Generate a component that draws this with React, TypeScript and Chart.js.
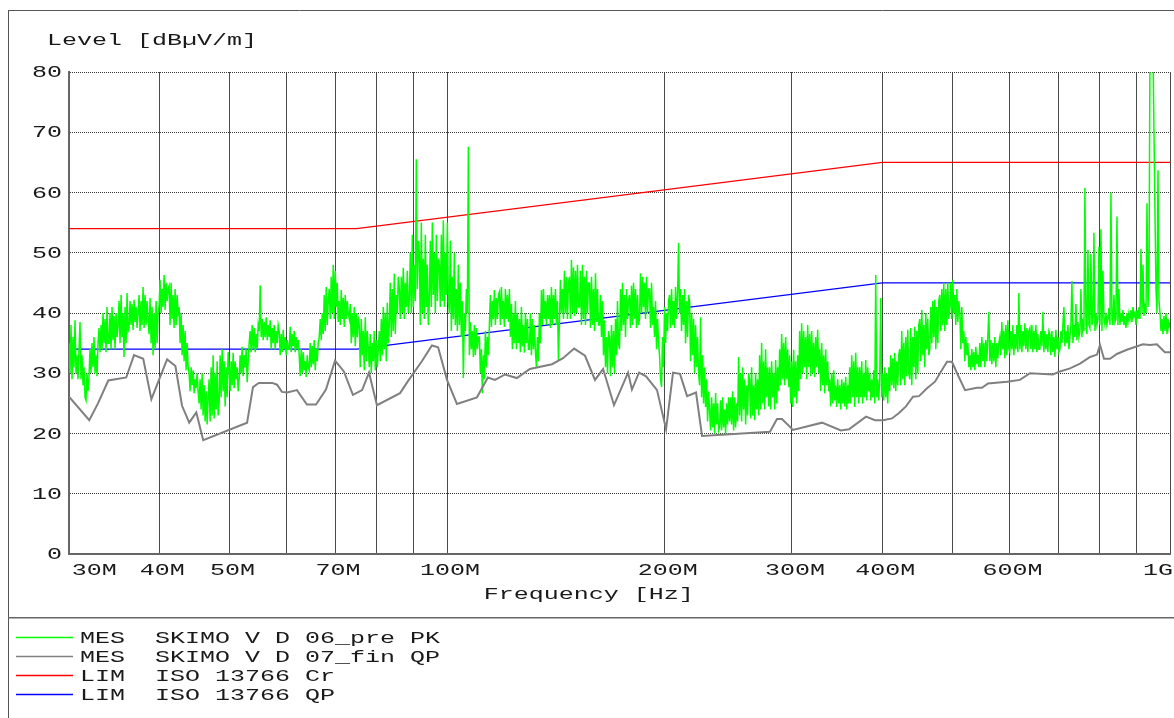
import React, { useEffect, useRef } from "react";
import { Chart, registerables } from "chart.js";

Chart.register(...registerables);

// ---------- data ----------
const FREQ_START_MHZ = 30;
const FREQ_STOP_MHZ = 1000;

const xGridMHz = [30, 40, 50, 60, 70, 80, 90, 100, 200, 300, 400, 500, 600, 700, 800, 900, 1000];
const xLabelMHz = [30, 40, 50, 70, 100, 200, 300, 400, 600, 1000];
const xLabelText = ["30M", "40M", "50M", "70M", "100M", "200M", "300M", "400M", "600M", "1G"];
const yTickValues = [0, 10, 20, 30, 40, 50, 60, 70, 80];

// MES SKIMO V D 06_pre PK : peak sweep levels (dBµV/m), one per sweep step from 30 MHz to 1 GHz
const pkLevels = [
  35, 30, 38, 29, 36, 31, 38.8, 30, 33, 29,
  34, 38.5, 29, 33, 28, 31, 26, 25.5, 30, 27,
  29.5, 34, 30, 35, 31, 36, 30, 33, 29.5, 35,
  37.5, 33.5, 38, 34, 40, 35, 39, 33.5, 41, 35,
  35, 40, 34, 41, 35.5, 39.5, 34, 40, 36, 38,
  42, 35, 43, 36, 40, 32.7, 41, 35, 43.3, 37,
  37.5, 42, 38, 41.5, 37.2, 42.2, 38.5, 41, 37.5, 40,
  43, 37, 42, 38, 44.3, 37.5, 43, 38, 42, 39,
  36.5, 42.5, 35, 41, 33, 40, 34, 42, 35, 40,
  41, 45.5, 40, 44, 41, 46.3, 40.5, 45, 42, 44,
  44.5, 38, 45, 39, 43, 37.5, 44, 38, 43, 40,
  41, 35, 40, 33, 38, 32, 37, 30.5, 35, 31,
  30, 27, 31, 28, 30.5, 26.7, 29, 27.5, 30, 27,
  25, 29, 24, 30, 23, 28, 22, 27, 21.5, 26,
  29, 22, 31, 23, 33, 22.5, 30, 24, 32, 23,
  25, 33, 26, 34, 27, 32, 24.5, 31, 26, 33.5,
  31, 27, 32, 28, 33.4, 27.5, 32, 29, 31, 27,
  29, 33, 30, 34.4, 29.5, 33, 31, 34, 28.5, 32,
  35, 37, 33.5, 38, 34, 37.5, 33.5, 36.5, 34, 38,
  37, 44.6, 36, 39, 35.5, 38.5, 36, 39.3, 35.5, 38,
  36, 38.8, 34, 37.5, 35, 38, 34, 37, 35, 38,
  37, 33, 36.5, 33.5, 37.2, 34, 36, 33, 35.5, 34,
  34, 37.7, 33.5, 36.5, 34.5, 37, 33.5, 36, 34, 35.5,
  33, 29.5, 34, 30, 33.5, 30.5, 32, 29.4, 33, 31,
  30.5, 35, 31, 34.5, 31.5, 35.5, 30.5, 34, 32, 35,
  36, 39, 35.5, 40, 36.5, 43, 37, 44.3, 38, 42,
  44, 39, 46, 40, 48, 39, 47, 41, 45, 38.5,
  42, 38, 43.8, 39, 42.5, 37.7, 43, 39, 42, 40,
  39, 41.5, 35, 40, 36, 41, 34.5, 40, 36, 39,
  38, 31, 39, 33, 37, 30.5, 39.3, 32, 37, 34,
  31, 36.5, 30, 35, 32, 37, 30.5, 35.5, 31, 34,
  37, 32, 39, 33, 41, 34, 40, 32, 41.7, 35,
  38, 45, 36, 44, 37, 46.5, 36.5, 43, 40, 46,
  44, 39, 46, 40, 47.5, 39, 45, 41, 47, 40,
  42, 50, 40, 53, 41, 48, 42, 65.5, 44, 52,
  50, 38, 55, 40, 49, 39, 53, 41, 48, 38,
  42, 52, 41, 55, 43, 50, 40, 53, 42, 49,
  48, 41, 53, 42, 55.4, 41, 50, 43, 55, 42,
  40, 52, 37, 46, 39, 50, 38, 44, 37, 48,
  38, 45, 36, 42, 29.2, 40, 37, 44, 40, 67.6,
  33, 38.5, 34, 37, 32.7, 38, 33, 37.5, 34, 36,
  36, 30, 34, 26.7, 33, 29, 37, 31, 36, 33,
  38, 43, 37.7, 42, 39, 43.8, 38, 42.5, 39, 43,
  43.5, 38, 44.3, 39, 42, 37.7, 44, 39, 43, 38.5,
  44, 36, 41.5, 34, 40, 35, 42, 34, 40, 35,
  39, 33.5, 41, 34.5, 38, 33.4, 40, 35, 39, 34,
  34, 40, 33, 39, 34, 38, 33.5, 31, 36, 32,
  40, 35, 43.8, 38, 44, 39, 42, 38, 43, 39,
  43, 37.5, 44.3, 38, 43, 39, 44, 38, 42, 32.2,
  38.5, 45.5, 40, 44, 39, 47, 40, 46, 39, 45,
  46, 39, 48.8, 40, 47.6, 39.5, 47, 40, 48, 41,
  41, 47, 38, 48, 39, 46, 38, 47, 40, 45,
  45, 37.5, 46, 38, 44, 37, 46.6, 38.5, 44, 38,
  38, 43, 36, 42, 33, 38.8, 31, 36, 30, 37,
  36, 29.5, 38, 31, 37, 30, 39, 33, 42, 35,
  34, 44, 37, 45, 38, 43, 36, 44, 39, 42,
  43, 37.5, 44.5, 38, 45, 39, 44, 37.5, 43, 38,
  39, 46.6, 40, 46, 41, 45, 39, 46, 40, 44,
  44, 37.5, 45, 38, 41, 36, 42, 34, 39, 35,
  33, 29, 27.7, 36, 31, 41, 35, 40, 37, 42,
  43, 37.5, 44, 38, 42, 37.5, 44.3, 39, 43, 51.6,
  40, 44, 37, 43, 38, 44, 35, 42, 36, 43,
  42, 32, 40, 33, 39, 30, 38, 31, 36, 30,
  28, 39.3, 26, 33, 25, 31, 24.4, 29, 22, 27,
  24, 20.5, 26, 21, 25, 20, 26.7, 21.5, 25, 20.5,
  21, 25.5, 20.5, 26, 21, 24, 20, 25, 21.5, 26,
  22, 26, 21.5, 27, 20.5, 26, 21, 25, 22, 32.7,
  23, 30, 22, 31, 24, 29, 21.5, 28, 23, 30,
  29, 22.5, 31, 23, 28, 22.2, 30, 24, 29, 23,
  33, 24, 35, 25, 32, 24, 34, 26, 31, 24.5,
  31, 24, 32, 26, 30, 24, 32.2, 25, 31, 27,
  34, 28, 36.5, 29, 35, 28, 36, 29, 34, 27.7,
  33, 25, 32, 24.4, 33.9, 26, 32, 25, 33, 27,
  37, 29, 38.3, 30, 37, 31, 36, 29, 38, 31,
  36.5, 29.5, 37, 30, 35, 29.4, 36, 31, 37.2, 30,
  34, 27, 35, 28, 33, 26.7, 34, 28, 32, 27,
  29, 24.5, 30, 25, 30.5, 25.5, 28, 24.4, 29, 25,
  28, 24, 29, 25, 28.5, 24.5, 29.4, 24, 28, 25,
  31, 25, 33, 26, 32, 24.4, 33.4, 26, 31, 25,
  31, 26, 32, 25, 30, 26, 32.2, 25.5, 31, 27,
  30, 25.5, 29, 26, 30.5, 25, 46.3, 26, 29, 25.5,
  29, 42.5, 26, 30, 25.5, 31, 26, 30, 25, 31,
  27, 33, 28, 32.5, 27.5, 33.4, 27, 32, 28, 33,
  34, 28, 37, 29, 35, 28, 36, 29.5, 37.2, 30,
  29, 37.5, 28, 36, 31, 37.7, 29, 37, 30, 38,
  39, 32, 40.5, 33, 38, 31, 40, 34, 39, 33,
  34, 41, 35, 42, 36, 42.2, 34, 41, 35, 42,
  43, 37, 44, 38, 45, 37, 44, 38, 45, 39,
  41, 45, 39, 45.5, 40, 43, 38, 44, 38.5, 42,
  40, 34, 41, 35, 37, 32, 36, 33, 35, 31,
  33, 30.5, 34, 31, 33.5, 30.5, 34.4, 31.5, 33, 31,
  35, 31, 36, 32, 35, 31, 35.5, 32, 36, 40.2,
  32, 35.5, 31.5, 35, 32, 36, 31, 35, 32.5, 35,
  36, 33, 38.5, 34, 37, 32.5, 38, 33, 38.8, 34,
  33.5, 37, 34, 38, 33, 36.5, 34, 38, 33.5, 43.3,
  34, 38, 33.5, 37, 34.5, 38.3, 34, 37.5, 33.5, 37,
  37.5, 34, 38, 33.5, 37, 34, 38, 33.5, 36.5, 34,
  34, 37, 34.5, 40.2, 33.5, 37, 34, 36.5, 33.5, 37,
  36.5, 33, 37, 33.5, 36, 32.7, 37.2, 34, 36, 33.5,
  34, 37, 35, 38, 41, 34.5, 37, 35, 38, 34,
  36, 38, 45.3, 35, 38, 36, 41.5, 35.5, 38.5, 36,
  37, 44, 36, 39, 37, 60.8, 38, 36.5, 50.5, 38,
  37.5, 49.8, 38, 39, 53.3, 37, 40, 38, 39, 51,
  38, 53.9, 37, 47, 39, 38, 40, 38, 39, 40.8,
  38, 60, 39, 38, 43, 38.5, 39, 56, 38, 44,
  38, 40, 38.5, 40.5, 38, 39.5, 37.5, 40, 38.5, 40,
  39, 40.5, 38.5, 41, 39.5, 40, 38, 40.5, 39, 41,
  39, 50.6, 40, 48, 39.5, 41, 40, 58.2, 41, 45,
  84, 86, 82, 84, 70, 56.6, 44, 40, 63.7, 42,
  40, 37, 39, 36.5, 39.5, 37, 40, 36.5, 39, 37.5,
  38.5,
];

// MES SKIMO V D 07_fin QP : final quasi-peak measurement
const qpFreqsMHz = [
  30, 32.0, 32.9, 34.0, 36.0, 36.9, 38.0, 39.0, 41.0, 42.1,
  43.0, 44.0, 45.0, 46.0, 52.9, 53.9, 54.9, 57.3, 58.2, 59.1,
  60.1, 62.0, 64.0, 65.9, 68.0, 70.0, 72.0, 74.1, 76.3, 78.0,
  80.0, 86.1, 88.3, 92.3, 95.3, 97.2, 100.0, 103.2, 110.0, 113.9,
  116.5, 120.3, 124.9, 130.2, 139.7, 144.7, 149.9, 155.2, 160.2, 164.4,
  170.2, 178.0, 180.2, 184.3, 188.5, 195.2, 200.9, 205.4, 210.0, 214.8,
  221.0, 225.3, 279.7, 286.0, 290.6, 301.0, 330.1, 350.6, 359.7, 379.8,
  390.8, 400.9, 412.5, 421.8, 431.3, 441.1, 449.6, 461.2, 473.1, 480.7,
  491.5, 499.4, 507.5, 520.6, 540.8, 549.5, 560.1, 595.1, 620.1, 640.2,
  688.8, 704.4, 727.3, 750.9, 775.3, 792.7, 800.2, 810.4, 826.1, 844.3,
  871.7, 917.4, 938.1, 959.0, 983.9, 1000,
];
const qpLevels = [
  26.1, 22.2, 25.0, 28.8, 29.3, 33.0, 32.4, 25.7, 32.3, 31.2,
  24.6, 21.8, 23.5, 18.9, 21.8, 27.7, 28.4, 28.4, 28.1, 26.9,
  26.8, 27.2, 24.8, 24.8, 27.3, 32.1, 30.3, 26.4, 27.2, 30.1,
  24.7, 26.7, 28.7, 32.0, 34.6, 34.3, 28.9, 24.9, 26.0, 29.3,
  28.9, 29.8, 29.2, 30.7, 31.5, 32.5, 34.1, 32.9, 28.9, 30.7,
  24.7, 30.1, 27.3, 30.1, 29.5, 27.2, 20.7, 30.1, 29.9, 26.2,
  26.8, 19.6, 20.3, 22.4, 22.4, 20.6, 21.8, 20.5, 20.7, 22.8,
  22.2, 22.2, 22.5, 23.4, 24.5, 26.1, 26.2, 27.5, 28.6, 30.0,
  31.9, 31.9, 30.0, 27.2, 27.6, 27.6, 28.3, 28.6, 28.9, 30.0,
  29.8, 30.3, 30.8, 31.6, 32.7, 33.1, 34.7, 32.4, 32.4, 33.2,
  33.9, 34.8, 34.7, 34.8, 33.5, 33.5,
];

// LIM ISO 13766 Cr
const crLimFreqsMHz = [30, 75, 400, 1000];
const crLimLevels = [54, 54, 65, 65];
// LIM ISO 13766 QP
const qpLimFreqsMHz = [30, 75, 400, 1000];
const qpLimLevels = [34, 34, 45, 45];

const legendLabels = [
  "MES  SKIMO V D 06_pre PK",
  "MES  SKIMO V D 07_fin QP",
  "LIM  ISO 13766 Cr",
  "LIM  ISO 13766 QP",
];
const legendColors = ["#00ff00", "#808080", "#ff0000", "#0000ff"];

const Y_TITLE = "Level [dBµV/m]";
const X_TITLE = "Frequency [Hz]";

// ---------- drawing helpers ----------
const FONT_PX = 17;
const FONT = `${FONT_PX}px "Liberation Mono", monospace`;
const PITCH = 15; // px per character
const CANVAS_W = 1174;
const CANVAS_H = 718;

function drawText(ctx: CanvasRenderingContext2D, text: string, x: number, y: number, align: "left" | "right" | "center") {
  ctx.save();
  ctx.font = FONT;
  ctx.textAlign = "left";
  ctx.textBaseline = "alphabetic";
  ctx.fillStyle = "#1a1a1a";
  const natural = ctx.measureText(text).width;
  const sx = (PITCH * text.length) / natural;
  const w = natural * sx;
  const x0 = align === "left" ? x : align === "right" ? x - w : x - w / 2;
  ctx.translate(x0, y);
  ctx.scale(sx, 1);
  ctx.fillText(text, 0, 0);
  ctx.restore();
  return w;
}

const overlayPlugin = {
  id: "emcOverlay",
  beforeDraw(chart: any) {
    const ctx: CanvasRenderingContext2D = chart.ctx;
    const W = chart.width;
    const H = chart.height;
    ctx.save();
    ctx.strokeStyle = "#555";
    ctx.lineWidth = 1;
    ctx.beginPath();
    ctx.moveTo(8, 10.5);
    ctx.lineTo(W, 10.5);
    ctx.moveTo(8.5, 10);
    ctx.lineTo(8.5, H);
    ctx.stroke();
    ctx.lineWidth = 1.5;
    ctx.strokeStyle = "#666";
    ctx.beginPath();
    ctx.moveTo(8, 617.75);
    ctx.lineTo(W, 617.75);
    ctx.stroke();
    ctx.restore();
  },
  afterDraw(chart: any) {
    const ctx: CanvasRenderingContext2D = chart.ctx;
    const xs = chart.scales.x;
    const ys = chart.scales.y;
    const area = chart.chartArea;

    // y title
    drawText(ctx, Y_TITLE, 47, 45, "left");
    // y tick labels
    yTickValues.forEach((v) => {
      const py = ys.getPixelForValue(v);
      drawText(ctx, String(v), 62, py + 5, "right");
    });
    // x tick labels
    xLabelMHz.forEach((f, i) => {
      const px = xs.getPixelForValue(f);
      const text = xLabelText[i];
      const w = PITCH * text.length;
      let left = px + 3 - w / 2;
      if (left < area.left + 2) left = area.left + 2.7;
      if (left + w > chart.width - 1) left = chart.width - 1 - w;
      drawText(ctx, text, left, 575, "left");
    });
    // x title
    drawText(ctx, X_TITLE, 588.7, 599, "center");

    // legend
    const rowY = [637, 656, 675.3, 694.3];
    legendLabels.forEach((label, i) => {
      ctx.save();
      ctx.strokeStyle = legendColors[i];
      ctx.lineWidth = 1.3;
      ctx.beginPath();
      ctx.moveTo(16, Math.round(rowY[i]) + 0.5);
      ctx.lineTo(73, Math.round(rowY[i]) + 0.5);
      ctx.stroke();
      ctx.restore();
      drawText(ctx, label, 80, rowY[i] + 5.5, "left");
    });
  },
};

function buildPkPoints() {
  const n = pkLevels.length;
  return pkLevels.map((v, i) => ({
    x: FREQ_START_MHZ * Math.pow(FREQ_STOP_MHZ / FREQ_START_MHZ, i / (n - 1)),
    y: v,
  }));
}

function zip(fs: number[], vs: number[]) {
  return fs.map((f, i) => ({ x: f, y: vs[i] }));
}

export default function App() {
  const canvasRef = useRef<HTMLCanvasElement | null>(null);

  useEffect(() => {
    const canvas = canvasRef.current;
    if (!canvas) return;
    const chart = new Chart(canvas, {
      type: "line",
      data: {
        datasets: [
          {
            label: legendLabels[1],
            data: zip(qpFreqsMHz, qpLevels),
            borderColor: "#808080",
            borderWidth: 2,
            pointRadius: 0,
            tension: 0,
            order: 0,
          },
          {
            label: legendLabels[0],
            data: buildPkPoints(),
            borderColor: "#00ff00",
            borderWidth: 1.5,
            pointRadius: 0,
            tension: 0,
            order: 1,
          },
          {
            label: legendLabels[3],
            data: zip(qpLimFreqsMHz, qpLimLevels),
            borderColor: "#0000ff",
            borderWidth: 1.2,
            pointRadius: 0,
            tension: 0,
            order: 2,
          },
          {
            label: legendLabels[2],
            data: zip(crLimFreqsMHz, crLimLevels),
            borderColor: "#ff0000",
            borderWidth: 1.2,
            pointRadius: 0,
            tension: 0,
            order: 3,
          },
        ],
      } as any,
      options: {
        animation: false,
        responsive: false,
        events: [],
        layout: { padding: { left: 69, right: 4, top: 72, bottom: 164 } },
        plugins: {
          legend: { display: false },
          tooltip: { enabled: false },
          title: { display: false },
        },
        scales: {
          x: {
            type: "logarithmic",
            min: FREQ_START_MHZ,
            max: FREQ_STOP_MHZ,
            ticks: { display: false },
            grid: { color: "#4a4a4a", lineWidth: 1, drawTicks: false },
            border: { display: true, color: "#666", width: 2 },
            afterBuildTicks: (s: any) => {
              s.ticks = xGridMHz.map((v) => ({ value: v }));
            },
          },
          y: {
            type: "linear",
            min: 0,
            max: 80,
            ticks: { display: false, stepSize: 10 },
            grid: { color: "#333", lineWidth: 1, drawTicks: false },
            border: { display: true, color: "#666", width: 2, dash: [1, 1] },
          },
        },
      } as any,
      plugins: [overlayPlugin],
    });
    return () => chart.destroy();
  }, []);

  return (
    <div style={{ position: "absolute", left: 0, top: 0, width: CANVAS_W, height: CANVAS_H }}>
      <canvas ref={canvasRef} width={CANVAS_W} height={CANVAS_H} style={{ display: "block" }} />
    </div>
  );
}
